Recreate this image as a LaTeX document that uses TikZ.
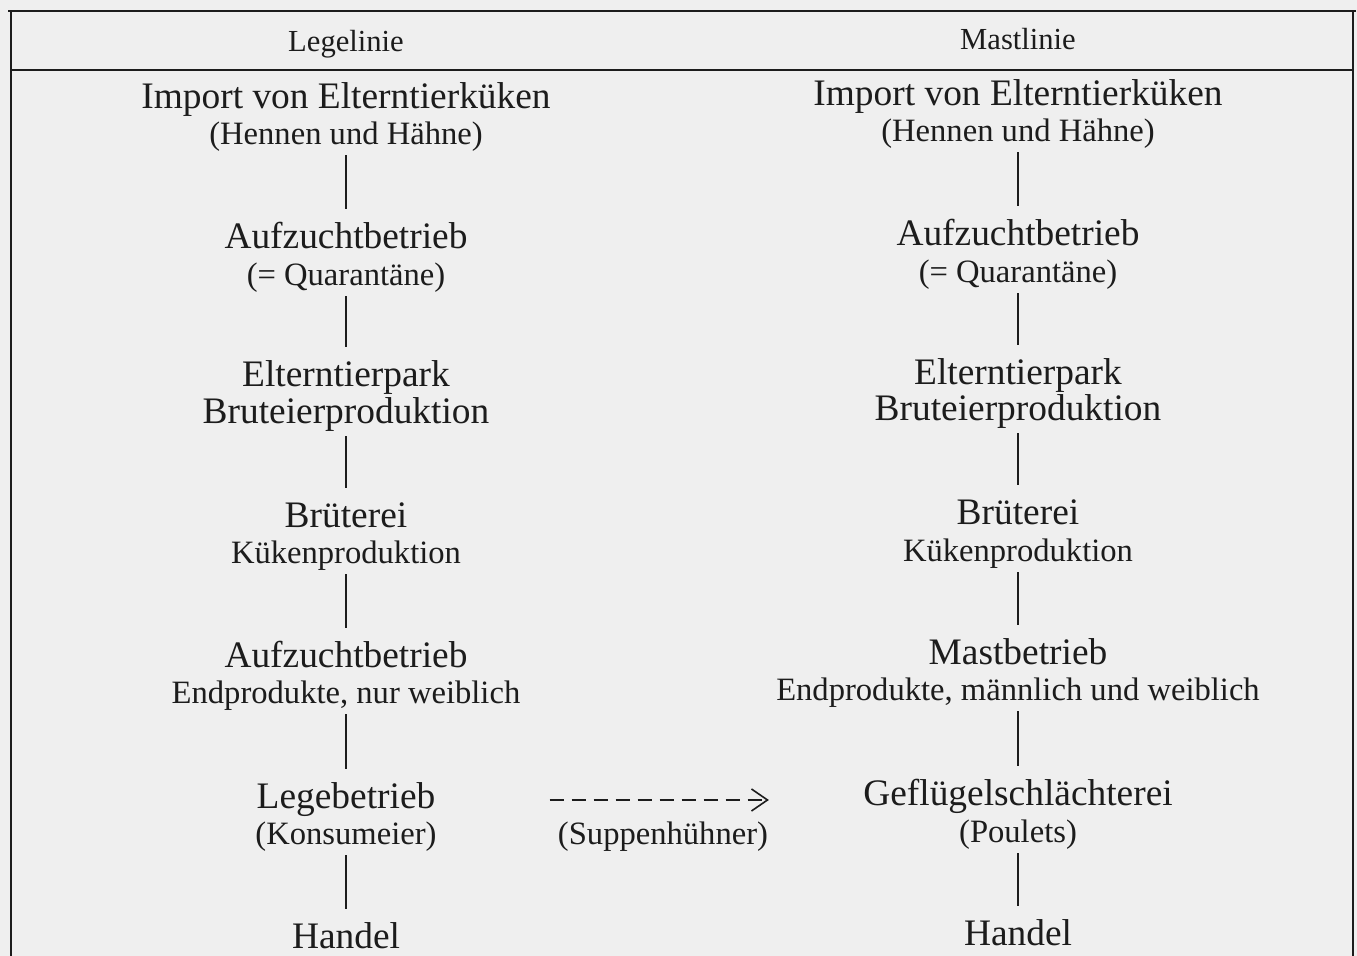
\documentclass[tikz,border=0pt]{standalone}
\usepackage{fontspec}
\setmainfont{Liberation Serif}
\usetikzlibrary{arrows.meta,positioning}

\definecolor{paper}{RGB}{239,239,239}
\definecolor{ink}{RGB}{28,28,28}

\tikzset{
    head/.style={font=\fontsize{15.3}{18}\selectfont, anchor=base, inner sep=0pt, text=ink},
    stage/.style={font=\fontsize{18.7}{22}\selectfont, anchor=base, inner sep=0pt,
        text height=13pt, text depth=4pt, text=ink},
    note/.style={font=\fontsize{16.3}{19}\selectfont, anchor=base, inner sep=0pt,
        text height=11pt, text depth=3pt, text=ink},
    link/.style={draw=ink, line width=1pt, shorten <=2pt, shorten >=7pt},
    rule/.style={draw=ink, line width=1.2pt},
    dasharrow/.style={draw=ink, line width=0.8pt, dash pattern=on 7pt off 4pt,
        -{Straight Barb[length=8pt, width=11pt]}, shorten <=57pt, shorten >=47pt}
}

\begin{document}
\begin{tikzpicture}[x=0.5pt, y=-0.5pt]

    \useasboundingbox[fill=paper] (0,0) rectangle (1357,956);

    % frame
    \draw[rule] (8,11) -- (1356,11);
    \draw[rule] (10,70) -- (1354,70);
    \draw[rule] (11,11) -- (11,956);
    \draw[rule] (1353,11) -- (1353,956);

    \node[head] (legelinie) at (346,52) {Legelinie};
    \node[head] (mastlinie) at (1018,50) {Mastlinie};

    % Legelinie
    \node[stage] (importL)   at (346,109) {Import von Elterntierküken};
    \node[note]  (importLs)  at (346,145) {(Hennen und Hähne)};
    \node[stage] (aufzL)     at (346,249) {Aufzuchtbetrieb};
    \node[note]  (aufzLs)    at (346,286) {(= Quarantäne)};
    \node[stage] (parkL)     at (346,387) {Elterntierpark};
    \node[stage] (parkLs)    at (346,424) {Bruteierproduktion};
    \node[stage] (brutL)     at (346,528) {Brüterei};
    \node[note]  (brutLs)    at (346,564) {Kükenproduktion};
    \node[stage] (aufz2L)    at (346,668) {Aufzuchtbetrieb};
    \node[note]  (aufz2Ls)   at (346,704) {Endprodukte, nur weiblich};
    \node[stage] (legeL)     at (346,809) {Legebetrieb};
    \node[note]  (legeLs)    at (346,845) {(Konsumeier)};
    \node[stage] (handelL)   at (346,949) {Handel};

    % Mastlinie
    \node[stage] (importR)   at (1018,106) {Import von Elterntierküken};
    \node[note]  (importRs)  at (1018,142) {(Hennen und Hähne)};
    \node[stage] (aufzR)     at (1018,246) {Aufzuchtbetrieb};
    \node[note]  (aufzRs)    at (1018,283) {(= Quarantäne)};
    \node[stage] (parkR)     at (1018,385) {Elterntierpark};
    \node[stage] (parkRs)    at (1018,421) {Bruteierproduktion};
    \node[stage] (brutR)     at (1018,525) {Brüterei};
    \node[note]  (brutRs)    at (1018,562) {Kükenproduktion};
    \node[stage] (mastR)     at (1018,665) {Mastbetrieb};
    \node[note]  (mastRs)    at (1018,701) {Endprodukte, männlich und weiblich};
    \node[stage] (schlR)     at (1018,806) {Geflügelschlächterei};
    \node[note]  (schlRs)    at (1018,843) {(Poulets)};
    \node[stage] (handelR)   at (1018,946) {Handel};

    \node[note] (suppe) at (663,845) {(Suppenhühner)};

    \draw[link] (importLs) -- (aufzL);
    \draw[link] (aufzLs) -- (parkL);
    \draw[link] (parkLs) -- (brutL);
    \draw[link] (brutLs) -- (aufz2L);
    \draw[link] (aufz2Ls) -- (legeL);
    \draw[link] (legeLs) -- (handelL);

    \draw[link] (importRs) -- (aufzR);
    \draw[link] (aufzRs) -- (parkR);
    \draw[link] (parkRs) -- (brutR);
    \draw[link] (brutRs) -- (mastR);
    \draw[link] (mastRs) -- (schlR);
    \draw[link] (schlRs) -- (handelR);

    \draw[dasharrow] (legeL) -- (legeL -| schlR.west);

\end{tikzpicture}
\end{document}
